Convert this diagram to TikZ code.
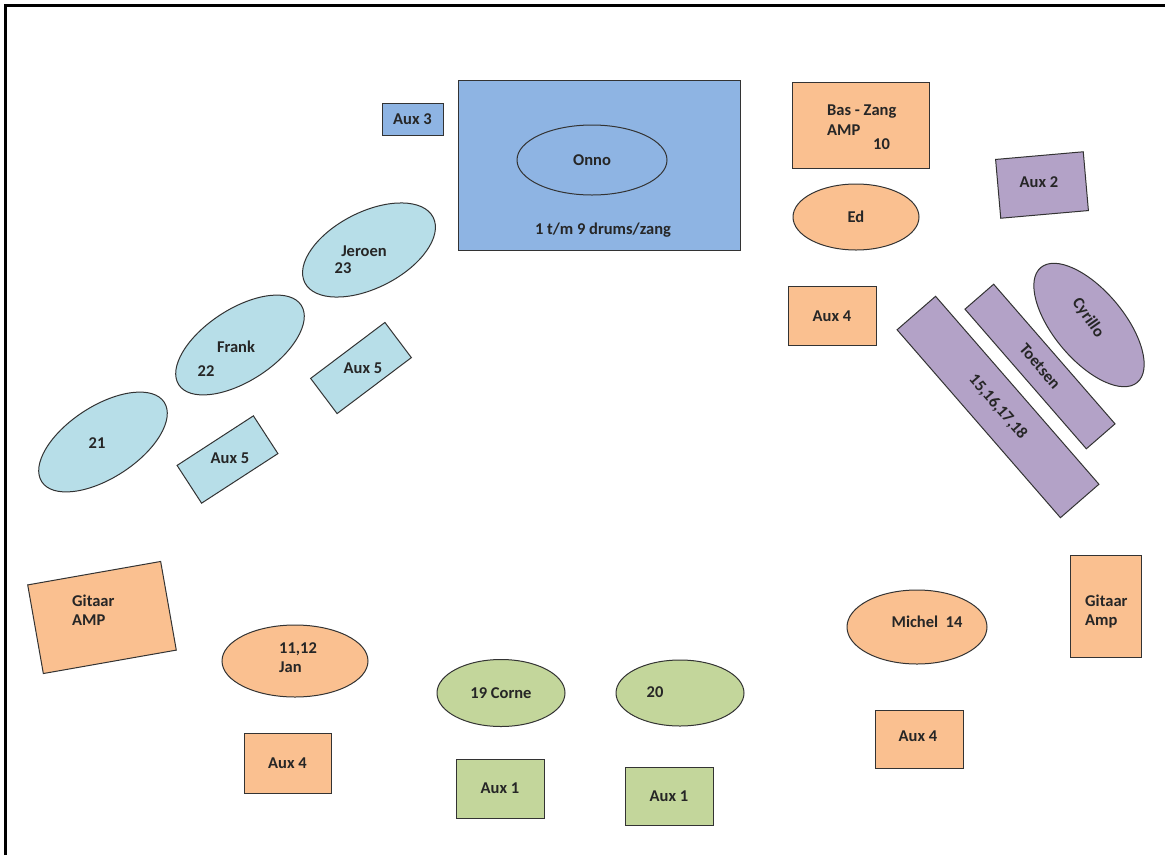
\documentclass[tikz,border=0pt]{standalone}
\usepackage{fontspec}
\setmainfont{Carlito}
\usetikzlibrary{shapes.geometric}
\definecolor{cOrange}{HTML}{FAC090}
\definecolor{cLBlue}{HTML}{B7DEE8}
\definecolor{cBlue}{HTML}{8EB4E3}
\definecolor{cPurple}{HTML}{B3A2C7}
\definecolor{cGreen}{HTML}{C3D69B}
\definecolor{cLine}{HTML}{333333}
\tikzset{
  shp/.style={draw=cLine, line width=1pt, inner sep=0pt, outer sep=0pt},
  box/.style={shp, rectangle, minimum width=#1},
  ell/.style={shp, ellipse},
  txt/.style={font=\fontsize{16.5}{19}\selectfont\bfseries, text=black!85, inner sep=0pt},
  ltxt/.style={txt, anchor=west, align=left},
}
\begin{document}
\begin{tikzpicture}[x=1pt, y=-1pt]
\useasboundingbox (0,0) rectangle (1165,855);
\fill[white] (0,0) rectangle (1165,855);
\draw[line width=3.2pt] (5.5,855) -- (5.5,5.5) -- (1165,5.5);

% drums
\node[box=282pt, minimum height=170pt, fill=cBlue] (drum) at (599,165) {};
\node[ell, fill=cBlue, minimum width=150pt, minimum height=70pt] (onno) at (592,160) {};
\node[txt] (onnot) at (onno.center) {Onno};
\node[txt] (drumt) at (603,230) {1 t/m 9 drums/zang};
\node[box=61pt, minimum height=32pt, fill=cBlue] (aux3) at (412.5,119) {};
\node[txt] (aux3t) at (aux3.center) {Aux 3};

% bass
\node[box=137pt, minimum height=86pt, fill=cOrange] (bas) at (861,125) {};
\node[ltxt] (bast) at (827,112) {Bas - Zang};
\node[ltxt] (ampt) at (827,130) {AMP};
\node[ltxt] (tent) at (873,144) {10};
\node[ell, fill=cOrange, minimum width=126pt, minimum height=66pt] (ed) at (856,217) {};
\node[txt] (edt) at (ed.center) {Ed};
\node[box=88pt, minimum height=59pt, fill=cOrange] (aux4a) at (832,316) {};
\node[txt] (aux4at) at (aux4a.center) {Aux 4};

% keys
\node[box=88pt, minimum height=59pt, fill=cPurple, rotate=5] (aux2) at (1042,185) {};
\node[txt] (aux2t) at (1039,182) {Aux 2};
\node[ell, fill=cPurple, minimum width=150pt, minimum height=70pt, rotate=-50] (cyr) at (1089,325) {};
\node[txt, rotate=-55] (cyrt) at (1088,318) {Cyrillo};
\node[box=185pt, minimum height=38pt, fill=cPurple, rotate=-49] (toets) at (1040,366.5) {};
\node[txt, rotate=-49] (toetst) at (toets.center) {Toetsen};
\node[box=249pt, minimum height=51pt, fill=cPurple, rotate=-49] (keys) at (998,407) {};
\node[txt, rotate=-49] (keyst) at (keys.center) {15,16,17,18};

% left blue
\node[ell, fill=cLBlue, minimum width=144pt, minimum height=76pt, rotate=27] (jer) at (369,250) {};
\node[txt] (jert) at (364,251) {Jeroen};
\node[txt] (jern) at (343,268) {23};
\node[ell, fill=cLBlue, minimum width=146pt, minimum height=72pt, rotate=33] (frank) at (240,345) {};
\node[txt] (frankt) at (236,347) {Frank};
\node[txt] (frankn) at (206,371) {22};
\node[ell, fill=cLBlue, minimum width=146pt, minimum height=72pt, rotate=33] (e21) at (103,442) {};
\node[txt] (e21t) at (97,443) {21};
\node[box=93pt, minimum height=44pt, fill=cLBlue, rotate=37] (aux5a) at (361,368) {};
\node[txt] (aux5at) at (363,368) {Aux 5};
\node[box=91pt, minimum height=45pt, fill=cLBlue, rotate=33] (aux5b) at (227.5,459.5) {};
\node[txt] (aux5bt) at (230,458) {Aux 5};

% bottom left
\node[box=135pt, minimum height=90pt, fill=cOrange, rotate=10] (gitl) at (102,617.5) {};
\node[ltxt] (gitlt) at (72,610) {Gitaar\\AMP};
\node[ell, fill=cOrange, minimum width=146pt, minimum height=72pt] (jan) at (295,661) {};
\node[ltxt] (jant) at (279,658) {11,12\\Jan};
\node[box=87pt, minimum height=60pt, fill=cOrange] (aux4b) at (287.5,763) {};
\node[txt] (aux4bt) at (aux4b.center) {Aux 4};

% green
\node[ell, fill=cGreen, minimum width=128pt, minimum height=67pt] (corne) at (501,693) {};
\node[txt] (cornet) at (corne.center) {19 Corne};
\node[box=88pt, minimum height=59pt, fill=cGreen] (aux1a) at (500,788.5) {};
\node[txt] (aux1at) at (aux1a.center) {Aux 1};
\node[ell, fill=cGreen, minimum width=128pt, minimum height=66pt] (e20) at (680,693) {};
\node[txt] (e20t) at (655,692) {20};
\node[box=88pt, minimum height=58pt, fill=cGreen] (aux1b) at (669,796) {};
\node[txt] (aux1bt) at (aux1b.center) {Aux 1};

% bottom right
\node[ell, fill=cOrange, minimum width=140pt, minimum height=74pt] (mich) at (917,627) {};
\node[txt] (micht) at (927,622) {Michel\ \ 14};
\node[box=88pt, minimum height=58pt, fill=cOrange] (aux4c) at (919,739) {};
\node[txt] (aux4ct) at (918,736) {Aux 4};
\node[box=71pt, minimum height=102pt, fill=cOrange] (gitr) at (1105.5,606) {};
\node[ltxt] (gitrt) at (1085,611) {Gitaar\\Amp};
\end{tikzpicture}
\end{document}
